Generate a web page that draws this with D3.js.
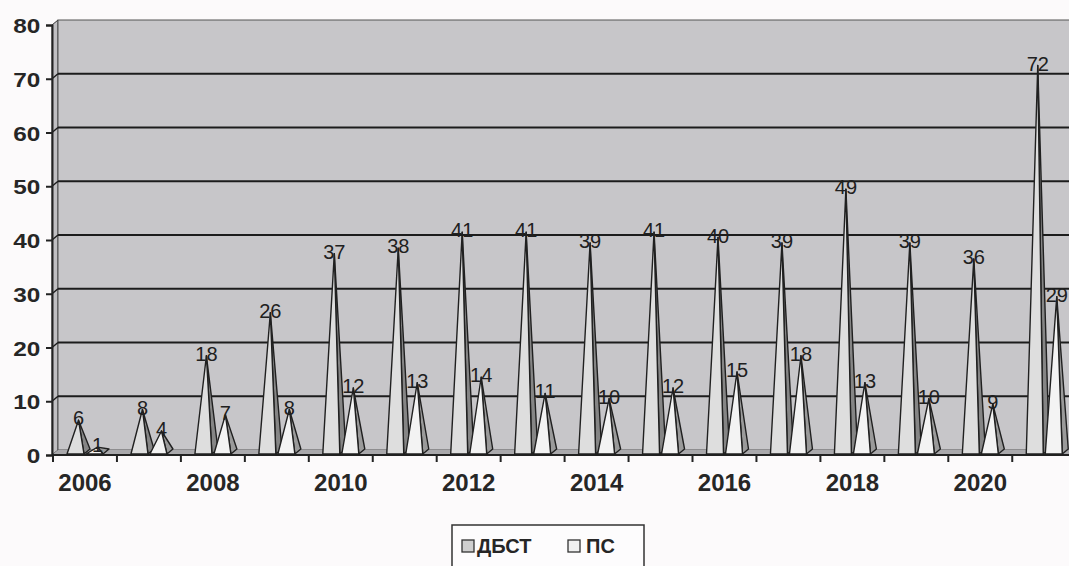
<!DOCTYPE html>
<html>
<head>
<meta charset="utf-8">
<script src="https://cdn.jsdelivr.net/npm/d3@7/dist/d3.min.js"></script>
<style>
  html, body { margin: 0; padding: 0; background: #fcfafb; }
  svg { display: block; }
</style>
</head>
<body>
<svg id="chart" width="1069" height="566"></svg>
<script>
const years = ["2006","2007","2008","2009","2010","2011","2012","2013","2014","2015","2016","2017","2018","2019","2020","2021"];
const seriesNames = ["ДБСТ", "ПС"];
const dbst = [6, 8, 18, 26, 37, 38, 41, 41, 39, 41, 40, 39, 49, 39, 36, 72];
const ps   = [1, 4, 7, 8, 12, 13, 14, 11, 10, 12, 15, 18, 13, 10, 9, 29];
const yTicks = [0, 10, 20, 30, 40, 50, 60, 70, 80];
const xLabels = ["2006","2008","2010","2012","2014","2016","2018","2020"];

const W = 1069, H = 566;
const svg = d3.select("#chart");
const DX = 6, DY = 5;           // 3D depth offset
const left = 52, bottom = 455;

const x = d3.scaleBand().domain(years).range([53, 53 + 16 * 63.95]).padding(0);
const xs = d3.scaleBand().domain(seriesNames).range([14, 50]).paddingInner(2 / 19);
const y = d3.scaleLinear().domain([0, 80]).range([bottom, 25]);

const colors = {
  "ДБСТ": { front: "#dedede", side: "#858585", swatch: "#cfcfcf" },
  "ПС":   { front: "#f3f3f3", side: "#9a9a9a", swatch: "#f0f0f0" }
};

// Walls
const wallColor = "#c7c6c9";
svg.append("polygon")
  .attr("points", [[left, bottom], [left, y(80)], [left + DX, y(80) - DY], [left + DX, bottom - DY]].join(" "))
  .attr("fill", "#c0bfc2").attr("stroke", "#333").attr("stroke-width", 1);
svg.append("rect")
  .attr("x", left + DX).attr("y", y(80) - DY)
  .attr("width", W - left - DX + 10).attr("height", bottom - DY - (y(80) - DY))
  .attr("fill", wallColor).attr("stroke", "#555").attr("stroke-width", 1);
// floor
svg.append("polygon")
  .attr("points", [[left, bottom], [left + DX, bottom - DY], [W + 10, bottom - DY], [W + 10, bottom]].join(" "))
  .attr("fill", "#a9a8ab");

// Gridlines on back wall + diagonal on side wall
const grid = svg.append("g");
yTicks.filter(v => v > 0 && v < 80).forEach(v => {
  grid.append("line")
    .attr("x1", left + DX).attr("x2", W + 5)
    .attr("y1", y(v) - DY).attr("y2", y(v) - DY)
    .attr("stroke", "#1c1c1c").attr("stroke-width", 2);
  grid.append("line")
    .attr("x1", left).attr("x2", left + DX)
    .attr("y1", y(v)).attr("y2", y(v) - DY)
    .attr("stroke", "#1c1c1c").attr("stroke-width", 1.5);
});

// Y axis
const yAxis = svg.append("g")
  .attr("transform", `translate(${left},0)`)
  .call(d3.axisLeft(y).tickValues(yTicks).tickSize(6).tickPadding(4).tickFormat(d3.format("d")));
yAxis.select(".domain").attr("stroke", "#222").attr("stroke-width", 2);
yAxis.selectAll(".tick line").attr("stroke", "#222").attr("stroke-width", 2);
yAxis.selectAll(".tick text")
  .attr("font-family", "'Liberation Sans', Arial, sans-serif")
  .attr("font-weight", "bold").attr("font-size", 21).attr("fill", "#262626")
  .attr("dy", "0.36em")
  .attr("transform", "scale(1.16,1)");

// X axis line + boundary ticks
svg.append("line")
  .attr("x1", left).attr("x2", W + 5).attr("y1", bottom).attr("y2", bottom)
  .attr("stroke", "#222").attr("stroke-width", 2);
const bounds = years.map(d => x(d)).concat([x(years[years.length - 1]) + x.bandwidth()]);
svg.append("g").selectAll("line").data(bounds).join("line")
  .attr("x1", d => d).attr("x2", d => d)
  .attr("y1", bottom).attr("y2", bottom + 7)
  .attr("stroke", "#222").attr("stroke-width", 2);

const xAxis = svg.append("g")
  .attr("transform", `translate(0,${bottom})`)
  .call(d3.axisBottom(x).tickValues(xLabels).tickSize(0).tickPadding(19));
xAxis.select(".domain").remove();
xAxis.selectAll(".tick text")
  .attr("font-family", "'Liberation Sans', Arial, sans-serif")
  .attr("font-weight", "bold").attr("font-size", 24).attr("fill", "#262626")
  .attr("dy", "0.71em");

// Pyramids
const rows = [];
years.forEach((yr, i) => {
  rows.push({ year: yr, series: "ДБСТ", value: dbst[i] });
  rows.push({ year: yr, series: "ПС", value: ps[i] });
});

const baseY = bottom - 1;
function geom(d) {
  const x1 = x(d.year) + xs(d.series);
  const x2 = x1 + xs.bandwidth();
  const ax = (x1 + x2) / 2 + DX / 2;
  const ay = y(d.value) - DY / 2;
  return { x1, x2, ax, ay };
}

const pyr = svg.append("g");
rows.forEach(d => {
  const g = geom(d);
  const c = colors[d.series];
  pyr.append("polygon")
    .attr("points", [[g.x2, baseY], [g.x2 + DX, baseY - DY], [g.ax, g.ay]].join(" "))
    .attr("fill", c.side).attr("stroke", "#202020").attr("stroke-width", 1.4).attr("stroke-linejoin", "round");
  pyr.append("polygon")
    .attr("points", [[g.x1, baseY], [g.x2, baseY], [g.ax, g.ay]].join(" "))
    .attr("fill", c.front).attr("stroke", "#202020").attr("stroke-width", 1.4).attr("stroke-linejoin", "round");
});

// Labels
svg.append("g").selectAll("text").data(rows).join("text")
  .attr("x", d => geom(d).ax)
  .attr("y", d => geom(d).ay + 5)
  .attr("text-anchor", "middle")
  .attr("font-family", "'Liberation Sans', Arial, sans-serif")
  .attr("font-size", 20).attr("fill", "#202020")
  .text(d => d.value);

// Legend
const lg = svg.append("g");
lg.append("rect").attr("x", 452).attr("y", 525).attr("width", 192).attr("height", 60)
  .attr("fill", "#fdfcfd").attr("stroke", "#333").attr("stroke-width", 1.5);
const legendItems = [
  { name: "ДБСТ", sx: 462, tx: 477 },
  { name: "ПС", sx: 568, tx: 586 }
];
legendItems.forEach(it => {
  lg.append("rect").attr("x", it.sx).attr("y", 540).attr("width", 12).attr("height", 12)
    .attr("fill", colors[it.name].swatch).attr("stroke", "#333").attr("stroke-width", 1.3);
  lg.append("text").attr("x", it.tx).attr("y", 553)
    .attr("font-family", "'Liberation Sans', Arial, sans-serif")
    .attr("font-weight", "bold").attr("font-size", 20).attr("fill", "#262626")
    .text(it.name);
});
</script>
</body>
</html>
